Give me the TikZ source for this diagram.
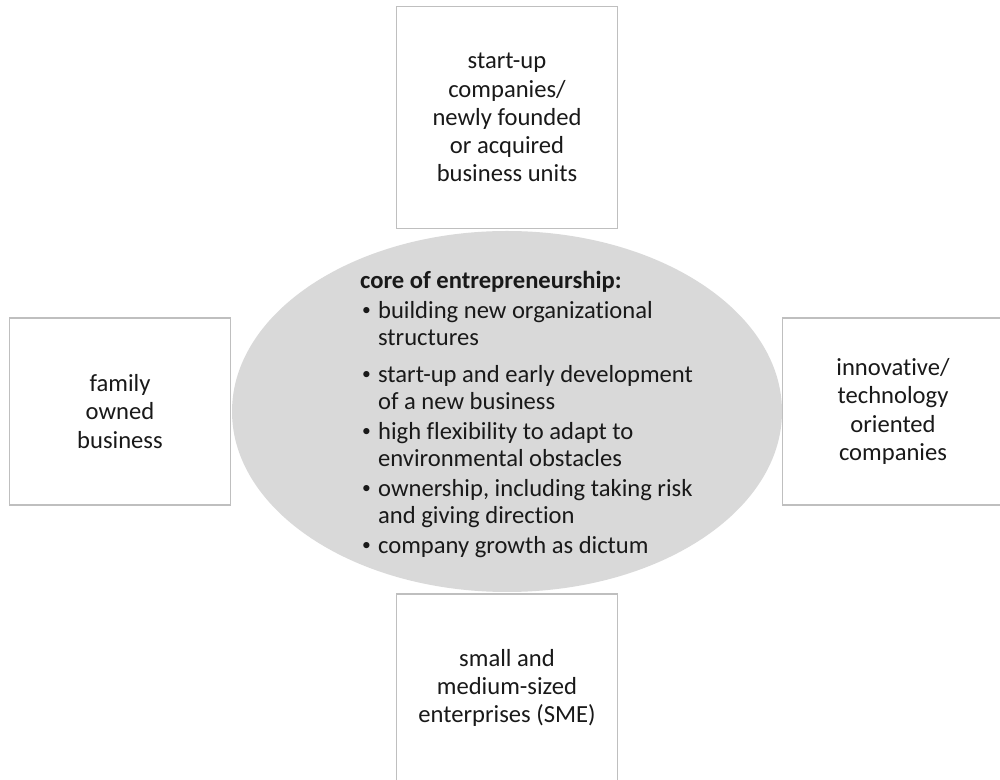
\documentclass[tikz,border=0pt]{standalone}
\usepackage{fontspec}
\setmainfont{Carlito}[Ligatures={NoCommon}]
\usetikzlibrary{shapes.geometric}
\definecolor{ellipsegray}{RGB}{217,217,217}
\definecolor{boxgray}{RGB}{191,191,191}
\newcommand{\itembul}{\makebox[0.36cm][l]{\hspace*{0.04cm}\raisebox{0.12em}{\fontsize{10}{10}\selectfont •}}}
\newcommand{\itemind}{\hspace*{0.36cm}}
\begin{document}
\begin{tikzpicture}[
    node distance=5.88cm,
    core/.style={
        ellipse,
        fill=ellipsegray,
        minimum width=11cm,
        minimum height=7.22cm
    },
    corelist/.style={
        align=left,
        font=\fontsize{14}{15.4}\selectfont,
        text=black!90
    },
    field/.style={
        rectangle,
        draw=boxgray,
        fill=white,
        line width=1.1pt,
        minimum width=4.42cm,
        align=center,
        font=\fontsize{14}{16}\selectfont,
        text=black!90
    }
]

\useasboundingbox (0,0) rectangle (20,-15.6);

% Centro - nucleo
\node[core] (core) at (10.14,-8.23) {};

\node[corelist, xshift=0.39cm, yshift=-0.06cm] (corelist) at (core) {
    \textbf{core of entrepreneurship:}\\[1.7pt]
    \itembul building new organizational\\
    \itemind structures\\[5.5pt]
    \itembul start-up and early development\\
    \itemind of a new business\\[1.7pt]
    \itembul high flexibility to adapt to\\
    \itemind environmental obstacles\\[1.7pt]
    \itembul ownership, including taking risk\\
    \itemind and giving direction\\[1.7pt]
    \itembul company growth as dictum
};

% Riquadri intorno
\node[field, minimum height=4.44cm, above of=core] (startup) {
    start-up\\
    companies/\\
    newly founded\\
    or acquired\\
    business units
};

\node[field, minimum height=3.74cm, left of=core, node distance=7.74cm] (family) {
    family\\
    owned\\
    business
};

\node[field, minimum height=3.74cm, right of=core, node distance=7.72cm] (innovative) {
    innovative/\\
    technology\\
    oriented\\
    companies
};

\node[field, minimum height=3.76cm, below of=core, node distance=5.53cm] (sme) {
    small and\\
    medium-sized\\
    enterprises (SME)
};

\end{tikzpicture}
\end{document}
